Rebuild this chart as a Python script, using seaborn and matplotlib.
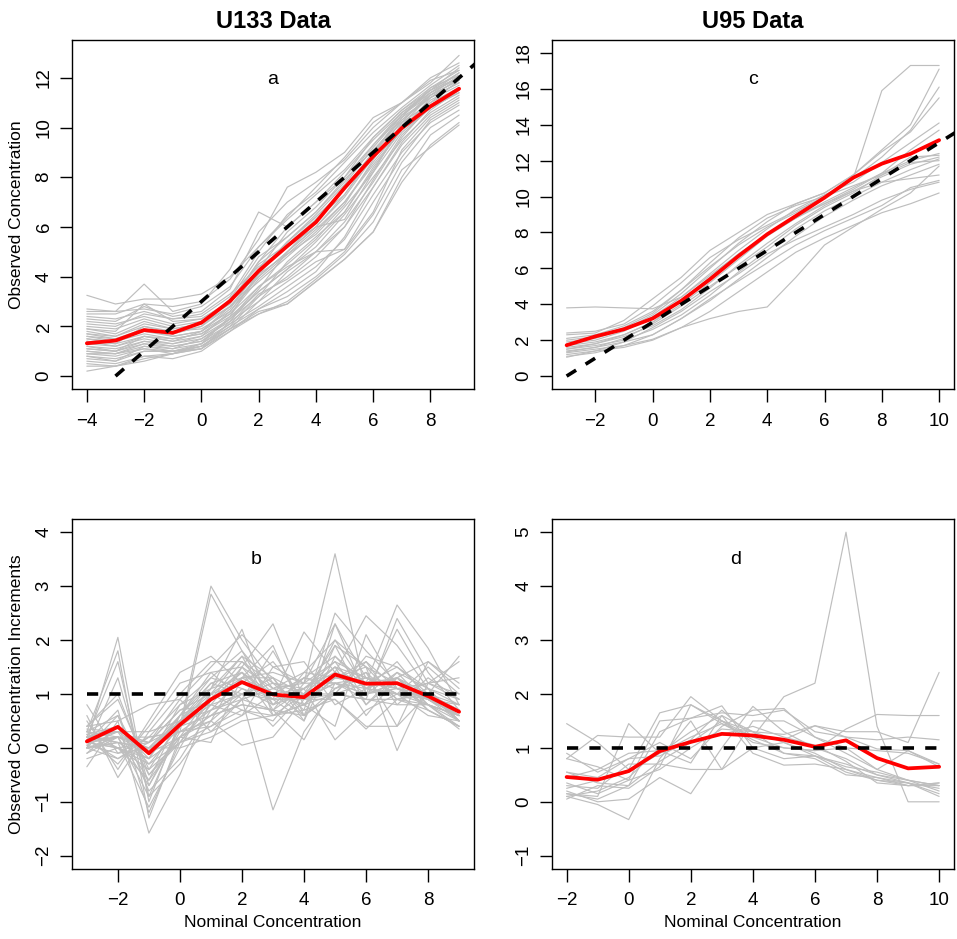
import numpy as np
import pandas as pd
import matplotlib
matplotlib.use("Agg")
import matplotlib.pyplot as plt
import seaborn as sns

# ---------------- data ----------------
x_u133 = list(range(-4, 10))          # nominal concentration, panel a
x_u133_inc = list(range(-3, 10))      # panel b
x_u95 = list(range(-3, 11))           # panel c
x_u95_inc = list(range(-2, 11))       # panel d

red_a = [1.32, 1.43, 1.85, 1.74, 2.15, 3.02, 4.23, 5.23, 6.19, 7.57, 8.84, 9.98, 10.85, 11.56]
red_b = [0.12, 0.39, -0.10, 0.43, 0.90, 1.22, 0.99, 0.94, 1.36, 1.19, 1.20, 0.96, 0.67]
red_c = [1.72, 2.21, 2.61, 3.21, 4.19, 5.39, 6.69, 7.90, 8.92, 9.94, 11.05, 11.83, 12.38, 13.14]
red_d = [0.46, 0.41, 0.57, 0.94, 1.11, 1.26, 1.23, 1.15, 1.02, 1.14, 0.81, 0.62, 0.65]

gray_a = [
    [3.25, 2.9, 3.1, 3.1, 3.3, 4.0, 5.2, 6.3, 7.3, 8.3, 9.6, 10.7, 11.5, 12.2],
    [2.6, 2.6, 3.7, 2.6, 2.9, 4.3, 6.6, 6.0, 7.0, 8.0, 9.3, 10.5, 11.5, 12.4],
    [2.5, 2.5, 2.9, 2.8, 3.0, 3.9, 5.5, 7.6, 8.2, 9.0, 10.4, 11.0, 11.8, 12.9],
    [2.3, 2.2, 2.8, 2.4, 2.6, 3.5, 5.8, 7.0, 7.8, 8.7, 10.0, 11.0, 11.9, 12.3],
    [2.1, 2.0, 2.5, 2.3, 2.4, 3.2, 5.0, 6.5, 7.4, 8.6, 9.8, 10.8, 11.7, 12.5],
    [2.0, 1.9, 2.3, 2.0, 2.2, 2.9, 4.6, 6.0, 7.0, 8.2, 9.5, 10.6, 11.4, 12.0],
    [1.9, 1.7, 2.2, 1.9, 2.1, 3.1, 4.8, 5.6, 6.6, 7.9, 9.1, 10.3, 11.2, 11.8],
    [1.8, 1.6, 2.0, 1.8, 1.9, 2.6, 4.0, 5.0, 6.2, 7.6, 9.0, 10.2, 11.0, 11.9],
    [1.7, 1.5, 1.9, 1.7, 2.0, 2.8, 3.8, 4.8, 5.8, 7.0, 8.6, 10.0, 10.9, 11.6],
    [1.6, 1.5, 1.8, 1.6, 1.8, 2.5, 3.6, 4.5, 5.5, 6.8, 8.2, 9.8, 10.8, 11.5],
    [1.5, 1.4, 1.7, 1.5, 1.7, 2.4, 3.4, 4.3, 5.2, 6.5, 8.0, 9.5, 10.6, 11.3],
    [1.4, 1.3, 1.6, 1.4, 1.6, 2.3, 3.2, 4.0, 5.0, 6.0, 7.6, 9.3, 10.5, 11.2],
    [1.3, 1.2, 1.5, 1.3, 1.5, 2.2, 3.0, 3.8, 4.6, 5.1, 7.0, 8.8, 10.3, 11.0],
    [1.2, 1.1, 1.4, 1.2, 1.4, 2.1, 2.8, 3.6, 4.4, 5.5, 7.3, 9.0, 10.2, 10.9],
    [1.1, 1.0, 1.3, 1.1, 1.3, 2.0, 2.7, 3.2, 4.0, 5.0, 6.5, 8.6, 10.0, 10.7],
    [1.0, 0.9, 1.2, 1.0, 1.2, 1.9, 2.6, 2.9, 3.8, 4.7, 5.8, 8.0, 9.7, 10.5],
    [0.9, 0.8, 1.1, 0.9, 1.1, 1.8, 2.5, 3.0, 3.9, 4.9, 6.2, 8.3, 9.2, 10.1],
    [0.8, 0.7, 1.0, 1.0, 1.1, 1.9, 3.0, 4.2, 5.0, 6.2, 7.8, 9.6, 10.9, 11.6],
    [0.6, 0.5, 0.8, 0.9, 1.2, 2.0, 3.2, 4.6, 5.6, 6.6, 8.4, 9.9, 11.2, 12.0],
    [0.4, 0.4, 0.7, 0.9, 1.1, 2.2, 3.5, 5.0, 6.0, 7.2, 8.8, 10.1, 11.3, 12.1],
    [0.2, 0.4, 0.6, 0.9, 1.3, 2.4, 4.2, 5.4, 6.4, 7.5, 9.0, 10.4, 11.6, 12.3],
    [2.7, 2.6, 2.7, 2.5, 2.8, 3.6, 5.2, 6.4, 7.6, 8.8, 10.2, 11.0, 12.0, 12.6],
    [2.4, 2.3, 2.6, 2.3, 2.5, 3.3, 4.4, 5.2, 6.0, 6.3, 8.2, 10.2, 11.4, 12.2],
    [1.6, 1.4, 1.9, 1.6, 1.8, 2.7, 4.3, 5.8, 6.8, 8.0, 9.6, 10.7, 11.6, 12.1],
    [1.2, 1.0, 1.4, 1.3, 1.6, 2.6, 4.1, 5.4, 6.5, 7.7, 9.2, 10.5, 11.3, 11.9],
    [0.9, 0.9, 1.3, 1.2, 1.4, 2.3, 3.6, 4.4, 5.0, 5.1, 6.6, 9.1, 10.4, 11.1],
    [0.7, 0.6, 1.0, 1.0, 1.3, 2.1, 3.3, 3.9, 4.8, 6.0, 7.9, 9.7, 10.8, 11.4],
    [1.9, 1.8, 2.9, 2.2, 2.3, 3.0, 4.5, 5.3, 6.3, 7.3, 8.9, 10.0, 11.1, 11.7],
    [0.5, 0.4, 0.8, 0.7, 1.0, 1.8, 2.7, 3.4, 4.2, 5.6, 7.6, 9.4, 10.7, 11.5],
    [1.4, 1.2, 1.6, 1.5, 1.7, 2.5, 3.9, 4.9, 5.9, 7.0, 8.5, 9.9, 10.8, 11.4],
    [1.0, 0.9, 1.1, 1.0, 1.2, 1.9, 2.5, 2.9, 3.8, 4.7, 5.8, 7.8, 9.3, 10.2],
    [1.5, 1.3, 2.0, 1.7, 2.0, 3.0, 4.6, 5.6, 6.6, 7.8, 9.3, 10.6, 11.5, 12.0],
    [1.1, 1.0, 1.6, 1.4, 1.8, 2.8, 4.0, 5.0, 6.0, 7.3, 8.9, 10.4, 11.2, 11.8],
    [2.2, 2.1, 2.4, 2.1, 2.3, 3.0, 4.1, 4.9, 5.7, 6.9, 8.7, 10.3, 11.3, 11.9],
    [0.8, 0.6, 1.2, 1.1, 1.5, 2.3, 3.4, 4.3, 5.4, 6.6, 8.3, 10.0, 11.0, 11.6],
    [1.7, 1.6, 2.1, 1.9, 2.1, 2.8, 4.2, 5.4, 6.4, 7.5, 9.0, 10.5, 11.4, 12.0],
]

gray_b = [
    [0.1, 2.05, -1.0, 0.5, 1.2, 1.4, 0.9, 1.1, 1.6, 1.3, 1.1, 0.9, 0.6],
    [0.3, 1.8, -1.3, 0.2, 1.0, 1.2, 1.0, 0.8, 1.3, 1.5, 1.2, 1.0, 0.7],
    [0.2, 1.6, -0.9, 0.4, 3.0, 2.0, 1.2, 1.0, 1.5, 1.1, 1.3, 1.0, 0.8],
    [0.0, 1.3, -0.7, 0.3, 2.85, 1.8, 0.8, 1.3, 1.2, 1.0, 1.4, 1.1, 0.5],
    [0.4, 1.0, -0.5, 0.1, 0.8, 1.5, 2.3, 0.9, 1.0, 1.2, 1.2, 0.9, 0.6],
    [-0.35, 0.5, -1.58, -0.5, 0.9, 1.3, 1.4, 1.2, 3.6, 1.0, 1.1, 1.0, 0.6],
    [0.8, -0.1, 0.2, 0.8, 1.1, 2.2, 0.6, 0.8, 1.4, 2.45, 1.9, 1.1, 0.9],
    [0.6, -0.55, 0.3, 1.0, 1.6, 1.6, 1.2, 0.7, 2.5, 1.8, 1.2, 1.0, 0.7],
    [0.5, -0.4, 0.5, 1.4, 1.7, 1.2, 0.9, 2.15, 1.4, 1.2, 2.65, 1.85, 0.8],
    [0.15, 0.3, 0.1, 0.9, 1.5, 2.1, 1.5, 1.2, 2.3, 1.0, 2.2, 1.2, 1.6],
    [0.1, 0.2, 0.0, 0.3, 0.7, 0.9, -1.15, 0.3, 1.1, 1.3, 1.0, 1.5, 1.0],
    [0.0, 0.1, -0.2, 0.2, 0.5, 0.05, 0.2, 0.9, 0.9, 0.4, 0.4, 1.0, 1.7],
    [0.2, 0.4, -0.3, 0.1, 0.3, 0.6, 1.0, 1.1, 0.15, 0.7, 1.0, 0.6, 0.5],
    [-0.2, 0.0, 0.1, 0.4, 0.6, 0.8, 0.7, 0.15, 1.2, 0.9, 0.9, 0.7, 0.4],
    [0.3, 0.6, -0.8, -0.2, 0.7, 1.0, 1.3, 1.0, 1.9, 0.8, 1.3, 0.9, 0.5],
    [0.1, 0.2, -0.1, 0.6, 1.3, 1.8, 1.1, 1.4, 2.0, 1.5, -0.05, 1.2, 1.3],
    [0.0, -0.2, 0.2, 0.3, 0.4, 0.7, 0.6, 0.8, 0.4, 2.1, 1.1, 0.8, 0.4],
    [0.25, 0.1, 0.0, 0.0, 0.2, 0.5, 0.6, 0.7, 0.9, 0.35, 0.9, 0.8, 0.6],
    [0.1, 0.0, -0.4, 0.5, 0.9, 1.4, 1.0, 0.6, 1.1, 1.4, 0.4, 1.6, 1.2],
    [0.05, 0.3, -0.6, 0.2, 0.6, 1.1, 0.8, 1.3, 1.7, 1.2, 1.3, 0.8, 0.35],
    [0.4, 0.5, 0.8, 0.9, 0.3, 0.9, 1.8, 0.8, 1.0, 1.7, 1.5, 1.1, 0.5],
    [0.2, 0.1, -1.1, 0.0, 1.0, 1.7, 1.3, 0.5, 2.3, 1.3, 1.2, 0.7, 0.4],
    [-0.1, 0.4, -0.2, 0.6, 1.2, 1.0, 0.4, 1.0, 1.3, 1.6, 0.8, 1.3, 0.9],
    [0.3, 0.2, 0.1, 0.7, 0.8, 0.6, 1.5, 1.6, 0.8, 1.1, 1.6, 0.9, 0.6],
    [0.0, 0.6, -0.5, 0.2, 0.1, 1.3, 1.9, 0.6, 1.0, 0.9, 2.4, 1.4, 0.7],
    [0.2, -0.3, 0.4, 1.2, 1.4, 0.9, 0.7, 1.1, 1.5, 0.6, 1.3, 1.6, 1.1],
    [0.15, 0.2, -0.9, -0.3, 0.5, 1.5, 1.1, 0.9, 2.0, 1.1, 1.0, 1.0, 0.5],
    [0.35, 0.3, 0.3, 0.5, 1.0, 0.7, 0.5, 1.2, 1.2, 1.0, 1.2, 0.9, 0.8],
    [0.1, 0.0, -0.3, 0.4, 0.8, 1.0, 0.9, 0.9, 1.2, 1.1, 1.0, 0.9, 0.6],
    [0.2, 0.3, -0.1, 0.2, 0.6, 0.8, 0.7, 0.6, 1.0, 0.9, 0.8, 0.8, 0.5],
    [0.0, 0.1, 0.0, 0.5, 1.1, 1.3, 1.0, 0.8, 1.3, 1.2, 1.1, 0.9, 0.7],
    [0.3, 0.0, -0.6, 0.6, 1.4, 1.5, 0.8, 1.0, 1.5, 1.3, 1.0, 0.8, 0.6],
    [-0.1, 0.2, 0.2, 0.3, 0.5, 1.0, 1.2, 1.1, 1.4, 1.0, 1.2, 1.0, 0.5],
    [0.1, 0.7, -1.2, 0.1, 0.9, 1.6, 1.0, 1.3, 1.1, 1.4, 0.9, 1.1, 0.8],
    [0.2, 0.0, -0.2, 0.8, 1.3, 1.1, 0.9, 0.5, 1.7, 1.1, 1.3, 0.7, 0.4],
    [0.05, -0.1, 0.0, 0.6, 0.9, 1.2, 1.6, 0.9, 1.2, 1.3, 1.0, 1.2, 0.9],
    [0.4, 0.9, -0.4, 0.1, 0.4, 0.9, 1.1, 1.2, 1.6, 0.8, 1.4, 0.8, 0.6],
    [0.0, 0.2, -0.7, 0.4, 1.1, 1.7, 0.7, 1.4, 1.3, 1.2, 1.5, 1.0, 0.6],
    [0.25, 0.4, -0.05, 0.5, 0.7, 1.3, 1.3, 0.6, 1.9, 1.5, 0.9, 1.0, 0.7],
    [0.15, -0.2, 0.1, 0.7, 1.0, 1.4, 0.6, 1.0, 1.0, 1.6, 1.1, 1.2, 1.0],
]

gray_c = [
    [3.8, 3.85, 3.8, 3.75, 4.4, 5.6, 6.8, 7.9, 8.8, 9.6, 10.4, 11.3, 12.6, 13.7],
    [2.4, 2.5, 2.9, 3.9, 5.2, 6.6, 7.6, 8.4, 9.2, 10.0, 11.0, 15.9, 17.3, 17.3],
    [2.3, 2.4, 3.1, 4.3, 5.5, 7.0, 8.0, 9.0, 9.6, 10.2, 11.2, 12.6, 14.0, 17.1],
    [2.1, 2.3, 2.8, 3.6, 4.8, 6.1, 7.3, 8.3, 9.1, 10.0, 11.0, 12.2, 13.7, 16.1],
    [1.9, 2.1, 2.6, 3.4, 4.6, 6.0, 7.4, 8.6, 9.6, 10.2, 11.2, 12.5, 13.6, 15.5],
    [1.8, 2.0, 2.5, 3.3, 4.4, 5.7, 7.0, 8.2, 9.3, 10.1, 10.8, 11.9, 13.0, 14.1],
    [1.7, 1.9, 2.3, 3.0, 4.0, 5.2, 6.5, 7.8, 8.8, 9.7, 10.5, 11.3, 12.0, 12.4],
    [1.6, 1.8, 2.2, 2.8, 3.7, 4.9, 6.2, 7.4, 8.5, 9.5, 10.3, 11.1, 11.8, 12.2],
    [1.5, 1.7, 2.0, 2.6, 3.4, 4.5, 5.8, 7.0, 8.2, 9.2, 10.0, 10.8, 11.5, 12.1],
    [1.4, 1.6, 1.9, 2.3, 3.2, 4.2, 5.4, 6.6, 7.8, 8.9, 9.8, 10.6, 11.2, 11.8],
    [1.3, 1.5, 1.7, 2.05, 2.7, 3.2, 3.6, 3.85, 5.5, 7.3, 8.3, 9.3, 10.2, 11.7],
    [1.2, 1.4, 1.6, 2.0, 2.7, 3.6, 4.7, 5.8, 6.9, 7.7, 8.4, 9.1, 9.6, 10.2],
    [1.1, 1.3, 1.7, 2.3, 3.2, 4.3, 5.3, 6.3, 7.3, 8.1, 8.8, 9.5, 10.5, 10.9],
    [1.05, 1.4, 1.9, 2.7, 3.6, 4.7, 5.7, 6.8, 7.6, 8.3, 9.0, 9.8, 10.4, 10.8],
    [1.5, 1.8, 2.3, 3.0, 4.2, 5.5, 6.8, 7.9, 8.9, 9.6, 10.3, 10.8, 11.0, 11.2],
    [2.0, 2.2, 2.7, 3.5, 4.8, 6.3, 7.7, 8.8, 9.5, 10.0, 10.6, 11.2, 12.2, 12.3],
    [1.35, 1.6, 2.1, 2.9, 3.9, 5.0, 6.1, 7.2, 8.4, 9.4, 10.2, 11.2, 11.9, 12.0],
]

gray_d = [
    [1.45, 1.1, 0.6, 1.65, 1.8, 1.5, 1.2, 1.95, 2.2, 5.0, 1.4, 0.0, 0.0],
    [0.8, 1.23, 1.2, 1.2, 1.95, 1.5, 1.1, 1.0, 0.95, 1.35, 1.62, 1.6, 1.6],
    [0.15, 0.1, 1.45, 0.9, 1.3, 1.6, 1.3, 1.25, 1.41, 1.3, 1.3, 1.1, 2.4],
    [0.55, 0.35, 0.3, 1.3, 1.55, 1.65, 1.6, 1.7, 1.3, 1.2, 1.15, 1.2, 1.15],
    [0.2, 0.0, 0.05, 0.45, 0.15, 1.0, 1.77, 1.3, 1.0, 0.8, 0.5, 0.4, 0.3],
    [0.1, -0.05, -0.33, 0.8, 1.5, 0.6, 1.0, 1.1, 0.9, 0.6, 0.45, 0.35, 0.15],
    [0.35, 0.15, 0.4, 1.5, 1.55, 1.78, 1.0, 0.8, 0.85, 0.7, 0.5, 0.35, 0.25],
    [0.9, 0.55, 0.8, 1.1, 0.8, 1.4, 1.7, 1.73, 1.2, 0.9, 0.6, 0.4, 0.3],
    [0.05, 0.3, 0.25, 0.65, 1.8, 1.45, 1.15, 0.9, 0.8, 0.5, 0.45, 0.3, 0.35],
    [0.45, 0.6, 0.9, 0.95, 0.72, 1.6, 0.9, 0.68, 0.7, 0.6, 0.4, 0.35, 0.1],
    [0.25, 0.4, 0.55, 0.9, 1.2, 1.45, 1.2, 1.0, 0.95, 1.0, 0.95, 0.9, 0.7],
    [0.8, 0.65, 0.4, 0.6, 1.0, 1.35, 1.3, 1.1, 0.85, 0.65, 0.55, 0.4, 0.2],
    [0.15, 0.05, 0.3, 0.75, 1.1, 1.25, 1.4, 1.2, 1.05, 0.75, 0.35, 0.3, 0.35],
    [0.3, 0.25, 0.7, 0.7, 0.6, 0.6, 1.5, 1.5, 1.2, 1.0, 0.6, 0.95, 0.65],
    [0.1, 0.2, 0.45, 1.0, 1.1, 1.5, 1.3, 0.9, 0.85, 0.55, 0.4, 0.3, 0.3],
    [0.55, 0.45, 0.8, 0.85, 1.15, 1.7, 1.2, 1.15, 1.41, 1.2, 0.98, 0.95, 0.7],
]

# reference guide lines
ref_a_x = [-3, 10]
ref_a_y = [0, 13]
ref_b_x = [-3, 9]
ref_b_y = [1, 1]
ref_c_x = [-3, 11]
ref_c_y = [0, 14]
ref_d_x = [-2, 10]
ref_d_y = [1, 1]

titles = ["U133 Data", "U95 Data"]
ylab_top = "Observed Concentration"
ylab_bottom = "Observed Concentration Increments"
xlab = "Nominal Concentration"

# ---------------- style ----------------
sns.set_theme(style="ticks")
plt.rcParams['font.family'] = ['Liberation Sans', 'DejaVu Sans']
plt.rcParams['axes.unicode_minus'] = True

fig = plt.figure(figsize=(9.57, 9.39), dpi=100)

pos = {
    "a": [0.0752, 0.5857, 0.4201, 0.3717],
    "c": [0.5765, 0.5857, 0.4204, 0.3717],
    "b": [0.0752, 0.0749, 0.4201, 0.3721],
    "d": [0.5765, 0.0749, 0.4204, 0.3721],
}

GRAY = "#BEBEBE"
DASH = (0, (3.1, 3.1))


def long_df(xs, lines):
    recs = []
    for i, ln in enumerate(lines):
        for xv, yv in zip(xs, ln):
            recs.append((i, xv, yv))
    return pd.DataFrame(recs, columns=["line", "x", "y"])


def fmt(t):
    return str(t) if t >= 0 else "\u2212" + str(-t)


def panel(key, xs, lines, red, refx, refy, xlim, ylim, xticks, yticks, letter_xy):
    ax = fig.add_axes(pos[key])
    df = long_df(xs, lines)
    sns.lineplot(data=df, x="x", y="y", units="line", estimator=None,
                 color=GRAY, linewidth=0.85, ax=ax, legend=False)
    sns.lineplot(x=xs, y=red, color="#FF0000", linewidth=2.7, ax=ax,
                 estimator=None, legend=False)
    sns.lineplot(x=refx, y=refy, color="black", linewidth=2.6, ax=ax,
                 estimator=None, legend=False, linestyle=DASH)
    ax.set_xlim(*xlim)
    ax.set_ylim(*ylim)
    ax.set_xticks(xticks)
    ax.set_yticks(yticks)
    ax.set_xticklabels([fmt(t) for t in xticks])
    ax.set_yticklabels([fmt(t) for t in yticks], rotation=90, va="center")
    for sp in ax.spines.values():
        sp.set_visible(True)
        sp.set_color("black")
        sp.set_linewidth(1.0)
    ax.tick_params(axis="both", direction="out", length=9, width=1.0,
                   color="black", labelsize=13.5, pad=8, labelcolor="black")
    ax.tick_params(axis="y", pad=5)
    ax.set_xlabel("")
    ax.set_ylabel("")
    ax.text(letter_xy[0], letter_xy[1], key, fontsize=14, ha="center",
            va="center", color="black")
    ax.grid(False)
    return ax


ax_a = panel("a", x_u133, gray_a, red_a, ref_a_x, ref_a_y,
             (-4.52, 9.52), (-0.52, 13.52), list(range(-4, 9, 2)),
             list(range(0, 13, 2)), (2.5, 11.95))
ax_c = panel("c", x_u95, gray_c, red_c, ref_c_x, ref_c_y,
             (-3.52, 10.52), (-0.72, 18.72), list(range(-2, 11, 2)),
             list(range(0, 19, 2)), (3.5, 16.5))
ax_b = panel("b", x_u133_inc, gray_b, red_b, ref_b_x, ref_b_y,
             (-3.48, 9.48), (-2.24, 4.24), list(range(-2, 9, 2)),
             list(range(-2, 5, 1)), (2.45, 3.5))
ax_d = panel("d", x_u95_inc, gray_d, red_d, ref_d_x, ref_d_y,
             (-2.48, 10.48), (-1.24, 5.24), list(range(-2, 11, 2)),
             list(range(-1, 6, 1)), (3.45, 4.5))

ax_a.set_title(titles[0], fontsize=17, fontweight="bold", pad=9, color="black")
ax_c.set_title(titles[1], fontsize=17, fontweight="bold", pad=9, color="black")

ax_a.set_ylabel(ylab_top, fontsize=12.5, labelpad=8, color="black")
ax_b.set_ylabel(ylab_bottom, fontsize=12.5, labelpad=8, color="black")
ax_b.set_xlabel(xlab, fontsize=12.5, labelpad=4, color="black")
ax_d.set_xlabel(xlab, fontsize=12.5, labelpad=4, color="black")

fig.savefig("out.png", dpi=100, facecolor="white")
